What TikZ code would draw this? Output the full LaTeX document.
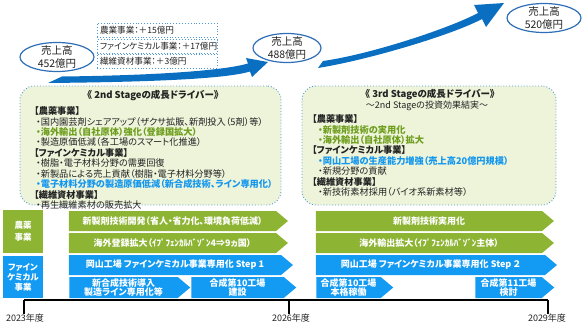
\documentclass[tikz,border=0pt]{standalone}
\usepackage{fontspec}
\setmainfont{Noto Sans CJK JP}[RawFeature={+palt}]
\usetikzlibrary{arrows.meta,positioning,calc,shapes.geometric,shapes.symbols}
\definecolor{cGrow}{HTML}{0A6FC0}
\definecolor{cSales}{HTML}{2E6FB8}
\definecolor{cDot}{HTML}{4F97D6}
\definecolor{cPanel}{HTML}{EEF4DA}
\definecolor{cGreen}{HTML}{8DB433}
\definecolor{cBlue}{HTML}{139AF2}
\definecolor{cGreenTxt}{HTML}{6E9E1E}
\definecolor{cBlueTxt}{HTML}{1497EE}
\definecolor{cInk}{HTML}{222222}
\tikzset{
  plan/.style={every node/.style={align=center, text=cInk}},
  sales/.style={ellipse, draw=cSales, line width=1.2pt, fill=white, minimum width=74pt, minimum height=29pt},
  salestxt/.style={font=\fontsize{10.5}{13}\selectfont, inner sep=0pt},
  gain/.style={draw=cDot, line width=0.9pt, dotted, fill=white, text width=114pt, align=left,
    minimum height=14pt, inner sep=3pt, font=\fontsize{8.6}{9}\selectfont},
  stage/.style={draw=cDot, line width=0.9pt, dotted, fill=cPanel, rounded corners=14pt},
  ttl/.style={font=\fontsize{9.5}{11}\selectfont\bfseries, inner sep=0pt},
  subttl/.style={font=\fontsize{9}{10}\selectfont, inner sep=0pt},
  body/.style={font=\fontsize{9.2}{10.45}\selectfont, align=left, inner sep=0pt},
  bar/.style={signal, signal to=east, signal pointer angle=80, minimum height=20pt, inner sep=0pt,
    text=white, font=\fontsize{9}{9.5}\selectfont\bfseries},
  gbar/.style={bar, fill=cGreen},
  bbar/.style={bar, fill=cBlue},
  lane/.style={fill=#1, text=white, minimum width=40pt, inner sep=0pt, font=\fontsize{8.5}{10}\selectfont\bfseries},
  year/.style={font=\fontsize{9}{11}\selectfont, inner sep=0pt},
  axis/.style={draw=black, line width=1.5pt},
}
\newcommand{\gtx}[1]{{\color{cGreenTxt}\bfseries #1}}
\newcommand{\btx}[1]{{\color{cBlueTxt}\bfseries #1}}

\begin{document}
\begin{tikzpicture}[plan, x=1pt, y=-1pt]
\useasboundingbox (0,0) rectangle (587,324);
% ---- growth arrows (drawn first, ellipses sit on top)
\fill[cGrow] (48,83) .. controls (150,82) and (225,79) .. (250,71.5) -- (252,77) -- (268,62) -- (246,58)
  -- (248,63.5) .. controls (222,71) and (150,75.5) .. (62,76.5) -- cycle;
\fill[cGrow] (318,68) .. controls (368,60) and (452,35) .. (482,19) -- (486,27) -- (504,3) -- (474,5)
  -- (478,13) .. controls (450,28) and (372,54) .. (323,61) -- cycle;

% ---- sales figures
\node[sales] (s23) at (57,57) {};
\node[salestxt] (s23t) at (s23) {売上高\\452億円};
\node[sales, minimum width=68pt] (s26) at (287,48) {};
\node[salestxt] (s26t) at (s26) {売上高\\488億円};
\node[sales] (s29) at (544,18) {};
\node[salestxt] (s29t) at (s29) {売上高\\520億円};

% ---- increase by segment
\node[gain] (g1) at (157,30)   {農業事業：＋15億円};
\node[gain] (g2) at (157,46.5) {ファインケミカル事業：＋17億円};
\node[gain] (g3) at (157,61)   {繊維資材事業：＋3億円};

% ---- growth drivers, 2nd stage
\node[stage, minimum width=261pt, minimum height=119pt] (st2) at (150.5,145.5) {};
\node[ttl] (st2t) at (153,95) {《 2nd Stageの成長ドライバー》};
\node[body, anchor=north west] (st2b) at (34,106.5) {%
  \textbf{【農薬事業】}\\
  \hspace*{2pt}・国内園芸剤シェアアップ（ザクサ拡販、新剤投入（5剤）等）\\
  \hspace*{2pt}\gtx{・海外輸出（自社原体）強化（登録国拡大）}\\
  \hspace*{2pt}・製造原価低減（各工場のスマート化推進）\\
  \textbf{【ファインケミカル事業】}\\
  \hspace*{2pt}・樹脂・電子材料分野の需要回復\\
  \hspace*{2pt}・新製品による売上貢献（樹脂・電子材料分野等）\\
  \hspace*{2pt}\btx{・電子材料分野の製造原価低減（新合成技術、ライン専用化）}\\
  \textbf{【繊維資材事業】}\\
  \hspace*{2pt}・再生繊維素材の販売拡大};

% ---- growth drivers, 3rd stage
\node[stage, minimum width=254pt, minimum height=119pt] (st3) at (429,145.5) {};
\node[ttl] (st3t) at (430,94) {《 3rd Stageの成長ドライバー》};
\node[subttl] (st3s) at (427,106) {～2nd Stageの投資効果結実～};
\node[body, anchor=north west] (st3b) at (312,114.5) {%
  \textbf{【農薬事業】}\\
  \hspace*{6pt}\gtx{・新製剤技術の実用化}\\
  \hspace*{6pt}\gtx{・海外輸出（自社原体）拡大}\\
  \textbf{【ファインケミカル事業】}\\
  \hspace*{6pt}\btx{・岡山工場の生産能力増強（売上高20億円規模）}\\
  \hspace*{6pt}・新規分野の貢献\\
  \textbf{【繊維資材事業】}\\
  \hspace*{6pt}・新技術素材採用（バイオ系新素材等）};

% ---- segment lanes
\node[lane=cGreen, minimum height=43pt, font=\fontsize{8.5}{12}\selectfont\bfseries] (agro) at (23,231.5) {農薬\\事業};
\node[lane=cBlue, minimum height=42pt] (fine) at (23,277) {ファイン\\ケミカル\\事業};

% ---- roadmap 2023-2026
\node[gbar, minimum width=219pt] (a1) at (172.5,221) {新製剤技術開発（省人・省力化、環境負荷低減）};
\node[gbar, minimum width=219pt] (a2) at (172.5,243) {海外登録拡大（ｲﾌﾟﾌｪﾝｶﾙﾊﾞｿﾞﾝ4⇒9ヵ国）};
\node[bbar, minimum width=224pt] (a3) at (175,265) {岡山工場\ ファインケミカル事業専用化\ Step 1};
\node[bbar, minimum width=121pt, minimum height=21pt] (a4) at (123.5,287.5) {新合成技術導入\\製造ライン専用化等};
\node[bbar, minimum width=105pt, minimum height=21pt] (a5) at (237.5,287.5) {合成第10工場\\建設};

% ---- roadmap 2026-2029
\node[gbar, minimum width=238pt] (b1) at (429,221) {新製剤技術実用化};
\node[gbar, minimum width=238pt] (b2) at (429,243) {海外輸出拡大（ｲﾌﾟﾌｪﾝｶﾙﾊﾞｿﾞﾝ主体）};
\node[bbar, minimum width=241pt] (b3) at (430.5,265) {岡山工場\ ファインケミカル事業専用化\ Step ２};
\node[bbar, minimum width=77pt, minimum height=21pt] (b4) at (348.5,287.5) {合成第10工場\\本格稼働};
\node[bbar, minimum width=79pt, minimum height=21pt] (b5) at (508.5,287.5) {合成第11工場\\検討};

% ---- time axis
\coordinate (t23) at (24,300);
\coordinate (t26) at (289,300);
\coordinate (t29) at (548,300);
\node[year] (y23) at (25,318) {2023年度};
\node[year] (y26) at (291,318) {2026年度};
\node[year] (y29) at (547,318) {2029年度};
\draw[axis] (t23) -- (t29);
\draw[axis] (t23) -- (t23 |- y23.north);
\draw[axis] (t26) -- (t26 |- y26.north);
\draw[axis] (t29) -- (t29 |- y29.north);
\end{tikzpicture}
\end{document}
